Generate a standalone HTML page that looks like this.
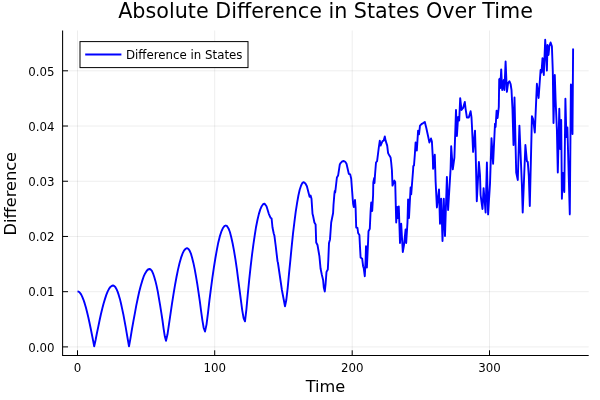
<!DOCTYPE html>
<html>
<head>
<meta charset="utf-8">
<title>Absolute Difference in States Over Time</title>
<style>
html,body{margin:0;padding:0;background:#fff;}
svg{display:block;will-change:transform;}
text{font-family:"DejaVu Sans","Liberation Sans",sans-serif;fill:#000;}
</style>
</head>
<body>
<svg width="600" height="400" viewBox="0 0 600 400">
<rect x="0" y="0" width="600" height="400" fill="#ffffff"/>
<!-- grid -->
<g stroke="#000" stroke-opacity="0.1" stroke-width="0.7" fill="none">
<path d="M77.5 30.5V355M214.7 30.5V355M352.2 30.5V355M489.5 30.5V355"/>
<path d="M62.5 346.90H588.7M62.5 291.68H588.7M62.5 236.46H588.7M62.5 181.24H588.7M62.5 126.02H588.7M62.5 70.80H588.7"/>
</g>
<!-- curve -->
<path id="curve" fill="none" stroke="#0000ff" stroke-width="1.9" stroke-linejoin="round" stroke-linecap="butt" d="M77.5 291.3 78.7 291.6 79.9 292.7 81.1 294.4 82.3 296.8 83.5 299.8 84.7 303.4 85.9 307.6 87.1 312.2 88.3 317.3 89.5 322.8 90.7 328.5 91.9 334.5 93.1 340.6 94.2 346.4 95.6 340 96.9 333.2 98.3 326.6 99.6 320.2 100.9 314.2 102.3 308.6 103.6 303.5 105 298.9 106.3 294.9 107.6 291.6 109 288.9 110.3 287 111.7 285.9 113 285.5 114.1 285.9 115.3 287 116.4 288.9 117.6 291.6 118.7 294.9 119.9 298.9 121 303.5 122.1 308.6 123.3 314.2 124.4 320.2 125.6 326.6 126.7 333.2 127.9 340 129 346.3 130.5 338.1 131.9 329.5 133.4 321.1 134.9 313.1 136.3 305.4 137.8 298.3 139.2 291.8 140.7 286 142.2 280.9 143.6 276.7 145.1 273.4 146.6 271 148 269.5 149.5 269 150.7 269.5 151.9 270.9 153 273.3 154.2 276.7 155.4 280.9 156.6 285.9 157.8 291.6 158.9 298.1 160.1 305.1 161.3 312.6 162.5 320.5 163.6 328.6 164.8 336.3 166 340.8 167.5 334.3 169 324.1 170.5 313.8 172 303.7 173.5 294.1 175 285.2 176.5 277 178 269.6 179.5 263.3 181 257.9 182.5 253.7 184 250.7 185.5 248.8 187 248.2 188.3 248.8 189.6 250.6 190.9 253.6 192.1 257.7 193.4 262.9 194.7 269.1 196 276.3 197.3 284.2 198.6 292.8 199.9 301.9 201.1 311.2 202.4 320.3 203.7 328 205 331.5 206.5 324.6 208 312.9 209.4 300.7 210.9 288.9 212.4 277.7 213.9 267.4 215.4 258 216.9 249.6 218.3 242.4 219.8 236.4 221.3 231.7 222.8 228.3 224.3 226.2 225.8 225.5 227.1 226.2 228.5 228.4 229.9 232 231.2 237 232.6 243.2 234 250.6 235.4 259.2 236.8 268.6 238.1 278.8 239.5 289.4 240.9 300.1 242.2 310.1 243.6 318.1 245 321.3 246.4 309.3 247.8 294.2 249.2 279.9 250.6 266.9 252 255 253.4 244.4 254.8 234.9 256.1 226.7 257.5 219.7 258.9 213.9 260.3 209.4 261.7 206.2 263.1 204.2 264.5 203.6 266.5 206.3 268.8 213.8 270.6 217.8 271.6 218.5 272.5 227.5 273.8 233.8 274.4 235.6 275.6 245 277.5 261.2 277.9 262.5 281.9 290 285 306.3 286.3 300 287.7 287.8 289 273.9 290.4 259.8 291.7 246.3 293 233.6 294.4 222.1 295.7 211.8 297.1 202.9 298.4 195.5 299.7 189.7 301.1 185.5 302.4 182.9 303.8 182.1 305.4 183.5 306.9 186.2 309 194.4 309.6 196.9 310.6 195.6 311.5 198.8 312.5 213.8 313.1 216 314.4 222.5 315.6 224.4 316.2 242.5 317.5 245 319.4 256.2 320.6 268.8 321.9 275 323.1 280 323.8 287.5 324.8 291.5 325.6 283.8 326.5 271.9 327.8 269.5 328.3 260 329 243 330 239.4 331.2 222.5 333.1 213 333.5 205 334.4 193.8 334.8 191 335.2 192.5 336.9 177.5 338.1 175.6 339.8 164.4 340.6 163.1 342.2 161.4 343.8 161 345.2 161.8 346.5 163.8 348.8 173.8 350.2 174.4 351.2 178.8 352.8 200 353.1 203.8 353.8 207 355 200 355.6 207.5 356.2 227.5 357.5 228 358.1 233 359.4 235 360 247 360.6 257.5 362.2 258.8 363.1 266.2 363.7 268 364.8 276.3 365.6 260 366 246.2 366.9 267.5 368.1 241.2 368.5 231.2 369.8 228.8 370.6 211.2 371.2 202.5 372.2 211 373.1 195 373.3 182.5 374.2 178 374.5 183 375 175 376 162.5 377.1 161.2 378.8 147.5 379.8 140.6 380.6 145.6 382.5 141.2 383.7 140.6 384.8 136.5 385.6 140.6 387.2 145.6 388.1 153.1 389.4 155.6 390.6 157.5 391.2 162.5 391.9 170 392.5 185.6 394.4 180.6 395.2 182 396.2 222.5 397.2 207 398 218 398.8 206.5 400 243 401.2 223.8 402.8 252 404 245 405.6 229.4 406.2 243 407.5 222 408.1 199.4 409 218 410.6 187.5 411.2 194.4 413.1 170 413.3 166 414 165.5 414.8 155 415.6 142.5 416.8 150.6 418.1 130.6 419 134.4 420 125.6 421.9 123.8 423.2 123.1 424.8 121.9 426.2 127.5 428.1 136.2 429.4 142.5 431 138.5 431.9 141.5 432.8 157.5 433.1 168.8 434.8 154.7 435.6 181.2 436.9 207.5 439 189.4 440 223.8 441.2 198.8 442.5 241 443.8 198.8 445 236 446.9 176.9 448.1 210 450.6 168.8 451.2 146.2 452.8 169.4 454.4 157.5 456 110 456.9 136 458.1 117 459.2 120.5 460.2 98.1 461.5 110 463.1 108 464.8 101.9 465.6 108.8 466.9 117.5 468.8 117.5 470.6 111.2 471.5 117.5 472 127 473.1 151.9 475 130.6 475.6 150 476.8 201.2 478.9 161.9 480 175 480.6 195 481.9 205 482.5 209 483.6 188.1 485.6 212.5 486.9 162.5 488.1 214.4 490 183.8 491.5 138.1 493.1 163.8 495 123.8 495.6 127 496.6 110.6 497.6 118 498.8 107 499.2 79.4 499.9 78.5 500.3 88 501.2 69.4 502.2 90 503.8 80 504.4 90 505.6 61.5 506.9 91.9 508.1 83.1 509.4 81.2 510.6 84 511.5 90 512.5 110 513.5 145 514.5 97.5 516.2 172.5 517.8 180 519.4 125.6 521.9 185 522.7 212.5 525.4 145 526.9 161.2 527.8 162 528.8 176.2 529.8 206 531.5 135 531.9 116.2 533.1 119 534.8 132.5 536.2 100 536.9 83.8 538.6 98 540.6 70 541.5 72.5 542.5 58.1 543.8 75 545.2 39.8 546.9 70.6 547.5 45 548.5 55 549.4 46 550.6 42.5 551.9 46.2 552.8 71 553.5 123 554.8 75 555.6 100 556.9 130 557.8 172.5 559.3 108.7 560.2 149 561.2 120 561.9 198.8 563 173 564.3 192 565.4 98.7 566.4 137 567.4 127.5 569.8 214.4 570.9 84.5 571.4 88 572.5 134 573.1 48.5"/>
<!-- axes -->
<g stroke="#000" stroke-width="1" fill="none">
<path d="M62.6 30.5V355.9M62.1 355.45H588.7" stroke-width="1.05"/>
<path d="M77.5 355.5V350.3M214.7 355.5V350.3M352.2 355.5V350.3M489.5 355.5V350.3"/>
<path d="M62.5 346.90H68M62.5 291.68H68M62.5 236.46H68M62.5 181.24H68M62.5 126.02H68M62.5 70.80H68"/>
</g>
<!-- tick labels -->
<g font-size="11.8" text-anchor="middle">
<text x="77.5" y="371.5">0</text>
<text x="214.7" y="371.5">100</text>
<text x="352.2" y="371.5">200</text>
<text x="489.5" y="371.5">300</text>
</g>
<g font-size="11.8" text-anchor="end">
<text x="54.5" y="351.65">0.00</text>
<text x="54.5" y="296.43">0.01</text>
<text x="54.5" y="241.21">0.02</text>
<text x="54.5" y="185.99">0.03</text>
<text x="54.5" y="130.77">0.04</text>
<text x="54.5" y="75.55">0.05</text>
</g>
<!-- guides -->
<text x="325.5" y="392" font-size="16.2" text-anchor="middle">Time</text>
<text transform="translate(16.4,193.7) rotate(-90)" font-size="16.2" text-anchor="middle">Difference</text>
<text x="325.6" y="17.7" font-size="20.7" text-anchor="middle">Absolute Difference in States Over Time</text>
<!-- legend -->
<rect x="80" y="41.6" width="168" height="26" fill="#fff" stroke="#000" stroke-width="1"/>
<path d="M85.2 54.5H121.4" stroke="#0000ff" stroke-width="1.9" fill="none"/>
<text x="126" y="59" font-size="11.8">Difference in States</text>
</svg>
</body>
</html>
